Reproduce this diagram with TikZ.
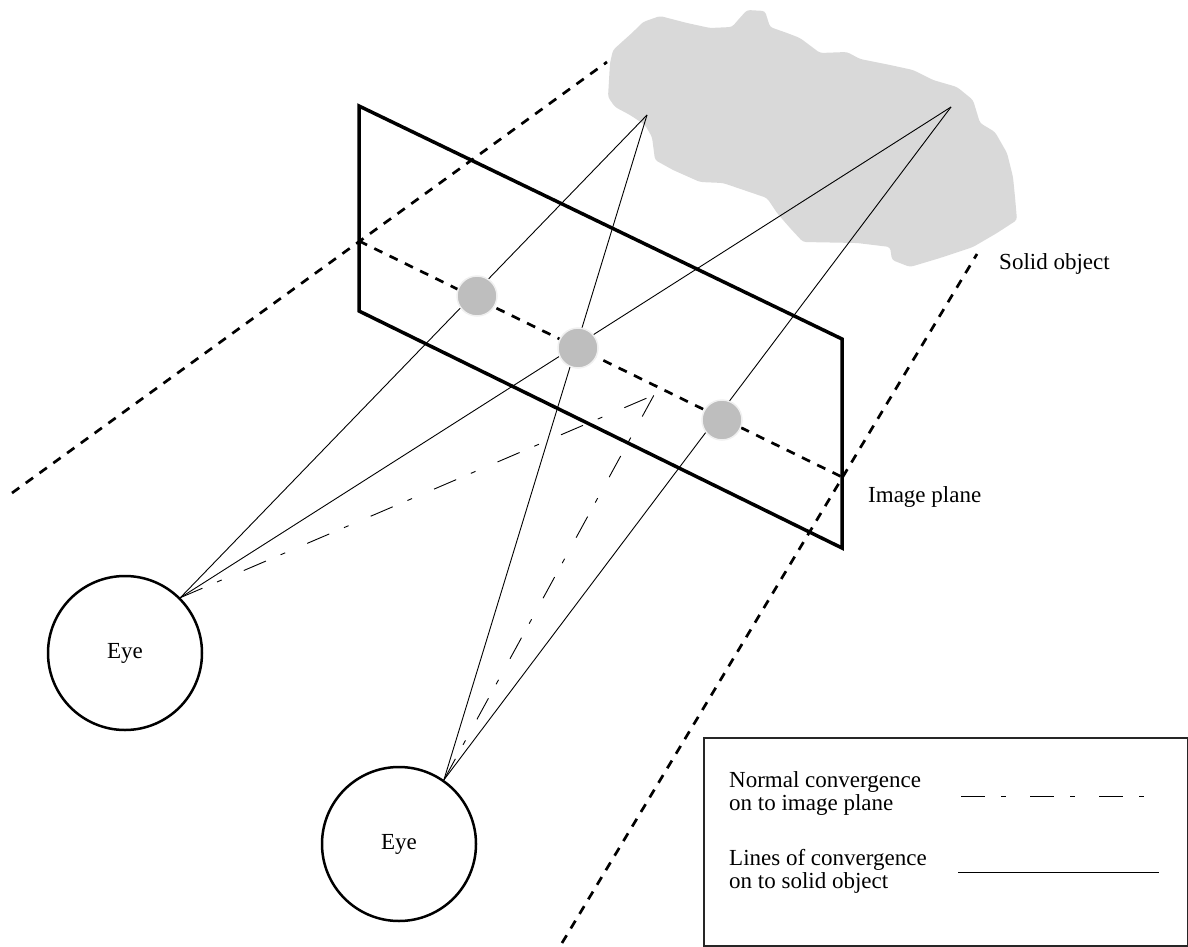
\documentclass[tikz,border=0pt]{standalone}
\usepackage{fontspec}
\setmainfont{Liberation Serif}
\newcommand\lblfont{\fontsize{23}{24}\selectfont}
\definecolor{cloudgray}{HTML}{D9D9D9}
\definecolor{dotgray}{HTML}{BEBEBE}
\begin{document}
\begin{tikzpicture}[x=1pt,y=-1pt,
  plane/.style={line width=3.5pt, line join=miter},
  frust/.style={line width=2.7pt, dash pattern=on 9pt off 8pt},
  ray/.style={line width=0.9pt},
  normal/.style={line width=0.9pt, dash pattern=on 24pt off 16pt on 5pt off 24pt},
  eyebox/.style={circle, draw, line width=2.5pt, minimum size=154pt, inner sep=0pt, font=\lblfont},
  dotnode/.style={circle, fill=dotgray, draw=white!94!black, line width=1.5pt, minimum size=40pt, inner sep=0pt},
  lbl/.style={anchor=base west, inner sep=0pt, font=\lblfont},
]
\useasboundingbox (0,0) rectangle (1188,947);

% solid object (cloud)
\fill[cloudgray, rounded corners=3pt] (610,63) -- (613,50) -- (633,32) -- (643,22) -- (660,16) -- (687,23) -- (710,28) -- (732,27) -- (738,20) -- (747,10) -- (765,11) -- (770,27) -- (787,33) -- (800,38) -- (820,53) -- (847,52) -- (860,59) -- (890,65) -- (913,70) -- (933,80) -- (957,87) -- (973,100) -- (980,123) -- (995,132) -- (1007,153) -- (1013,177) -- (1015,197) -- (1017,220) -- (997,233) -- (973,247) -- (940,258) -- (910,267) -- (892,260) -- (890,247) -- (857,243) -- (803,242) -- (790,228) -- (777,213) -- (767,198) -- (723,183) -- (700,182) -- (673,170) -- (655,160) -- (652,137) -- (645,125) -- (630,115) -- (615,107) -- (608,97) -- cycle;

% coordinates
\coordinate (P1) at (359,106);
\coordinate (P2) at (842,339);
\coordinate (P3) at (842,548);
\coordinate (P4) at (359,311);
\coordinate (M1) at (359,241);
\coordinate (M2) at (842,477);
\coordinate (F1a) at (12,493);
\coordinate (F1b) at (607,62);
\coordinate (F2a) at (977,254);
\coordinate (F2b) at (562,943);
\coordinate (OA) at (647,115);
\coordinate (OB) at (951,107);
\coordinate (N) at (654,395);

% eyes
\node[eyebox] (eyeL) at (125,653) {Eye};
\node[eyebox] (eyeR) at (399,844) {Eye};

% frustum dashed lines
\draw[frust] (F1a) -- (F1b);
\draw[frust] (F2b) -- (F2a);
\draw[frust] (M1) -- (M2);

% image plane
\draw[plane] (P1) -- (P2) -- (P3) -- (P4) -- cycle;

% rays to solid object
\draw[ray] (eyeL.45) -- (OA);
\draw[ray] (eyeL.45) -- (OB);
\draw[ray] (eyeR.55) -- (OA);
\draw[ray] (eyeR.55) -- (OB);

% normal convergence
\draw[normal] (eyeL.45) -- (N);
\draw[normal] (eyeR.55) -- (N);

% image points
\node[dotnode] (d1) at (477,296) {};
\node[dotnode] (d2) at (578,348) {};
\node[dotnode] (d3) at (722,420) {};

% labels
\node[lbl] (solid) at (999,269) {Solid object};
\node[lbl] (image) at (868,502) {Image plane};

% legend
\node[draw=black!85, line width=2pt, minimum width=484pt, minimum height=208pt, inner sep=0pt, anchor=north west] (legend) at (703,737) {};
\node[lbl] (lg1a) at (729,787) {Normal convergence};
\node[lbl] (lg1b) at (729,810) {on to image plane};
\node[lbl] (lg2a) at (729,865) {Lines of convergence};
\node[lbl] (lg2b) at (729,888) {on to solid object};
\coordinate (s1a) at (961,796);
\coordinate (s1b) at (1145,796);
\coordinate (s2a) at (958,872);
\coordinate (s2b) at (1159,872);
\draw[normal] (s1a) -- (s1b);
\draw[ray] (s2a) -- (s2b);
\end{tikzpicture}
\end{document}
